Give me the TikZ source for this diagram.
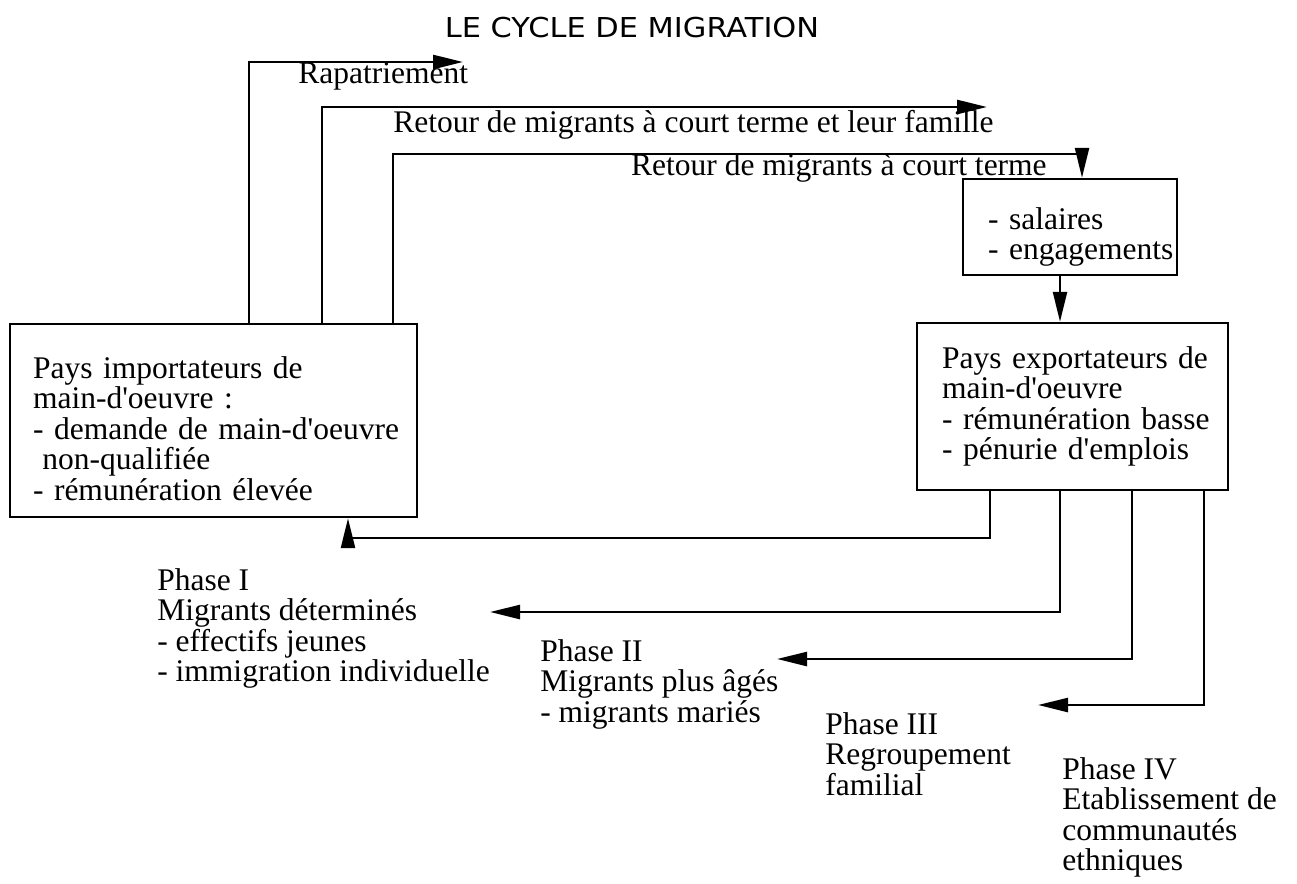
\documentclass[tikz,border=0pt]{standalone}
\usepackage{fontspec}
\setmainfont{Liberation Serif}
\newfontfamily\titlefont{DejaVu Sans}
\usepackage{graphicx}
\usetikzlibrary{arrows.meta}
\newcommand\aq{\textquotesingle}
\begin{document}
\begin{tikzpicture}[x=0.02cm, y=-0.02cm,
  every node/.style={font=\fontsize{17.93pt}{17.36pt}\selectfont, inner sep=0pt},
  conn/.style={line width=0.05cm},
  arr/.style={conn, -{Triangle[length=0.6cm, width=0.28cm]}},
  box/.style={draw, line width=0.05cm, rectangle, align=left, inner ysep=0pt},
  lbl/.style={align=left, anchor=north west}]
\useasboundingbox[fill=white] (0,0) rectangle (1297,883);

% title
\node[anchor=base, font=\titlefont\fontsize{15.6pt}{18pt}\selectfont] (title) at (632,37)
  {\scalebox{1.11}[1]{LE CYCLE DE MIGRATION}};

% boxes
\node[box, minimum width=8.14cm, minimum height=3.86cm, text width=7.22cm, inner xsep=0.46cm] (imp) at (213.5,420.5)
  {\mbox{\rule{0pt}{0.75cm}Pays importateurs de}\\ \mbox{main-d\aq oeuvre :}\\ \mbox{- demande de main-d\aq oeuvre}\\ \mbox{\hspace*{0.3em}non-qualifiée}\\ \mbox{- rémunération élevée}};
\node[box, minimum width=6.22cm, minimum height=3.34cm, text width=5.22cm, inner xsep=0.5cm] (exp) at (1072.5,406.5)
  {\mbox{Pays exportateurs de}\\ \mbox{main-d\aq oeuvre}\\ \mbox{- rémunération basse}\\ \mbox{- pénurie d\aq emplois}};
\node[box, minimum width=4.28cm, minimum height=1.92cm, text width=3.28cm, inner xsep=0.5cm] (sal) at (1070,227)
  {\mbox{\rule{0pt}{0.83cm}- salaires}\\ \mbox{- engagements}};

% labels
\node[anchor=base west] (rap) at (298,83) {Rapatriement};
\node[anchor=base west] (fam) at (393,132) {Retour de migrants à court terme et leur famille};
\node[anchor=base east] (crt) at (1047,175) {Retour de migrants à court terme};
\node[lbl] (ph1) at (157,568) {Phase I\\ Migrants déterminés\\ - effectifs jeunes\\ - immigration individuelle};
\node[lbl] (ph2) at (540,639) {Phase II\\ Migrants plus âgés\\ - migrants mariés};
\node[lbl] (ph3) at (825,712) {Phase III\\ Regroupement\\ familial};
\node[lbl] (ph4) at (1062,757) {Phase IV\\ Etablissement de\\ communautés\\ ethniques};

% columns and free ends
\coordinate (c249) at (249,0);
\coordinate (c322) at (322,0);
\coordinate (c393) at (393,0);
\coordinate (c1082) at (1082,0);
\coordinate (c1060) at (1060,0);
\coordinate (c990) at (990,0);
\coordinate (c1132) at (1132,0);
\coordinate (c1204) at (1204,0);
\coordinate (tRap) at (463,62);
\coordinate (tFam) at (987,107);
\coordinate (k3) at (1082,154);
\coordinate (k1) at (348,538);
\coordinate (t2) at (490,612);
\coordinate (t3) at (777,659);
\coordinate (t4) at (1038,705);

% connectors
\draw[arr] (imp.north -| c249) |- (tRap);
\draw[arr] (imp.north -| c322) |- (tFam);
\draw[arr] (imp.north -| c393) |- (k3) -- (sal.north -| c1082);
\draw[arr] (sal.south -| c1060) -- (exp.north -| c1060);
\draw[arr] (exp.south -| c990) |- (k1) -- (imp.south -| k1);
\draw[arr] (exp.south -| c1060) |- (t2);
\draw[arr] (exp.south -| c1132) |- (t3);
\draw[arr] (exp.south -| c1204) |- (t4);
\end{tikzpicture}
\end{document}
